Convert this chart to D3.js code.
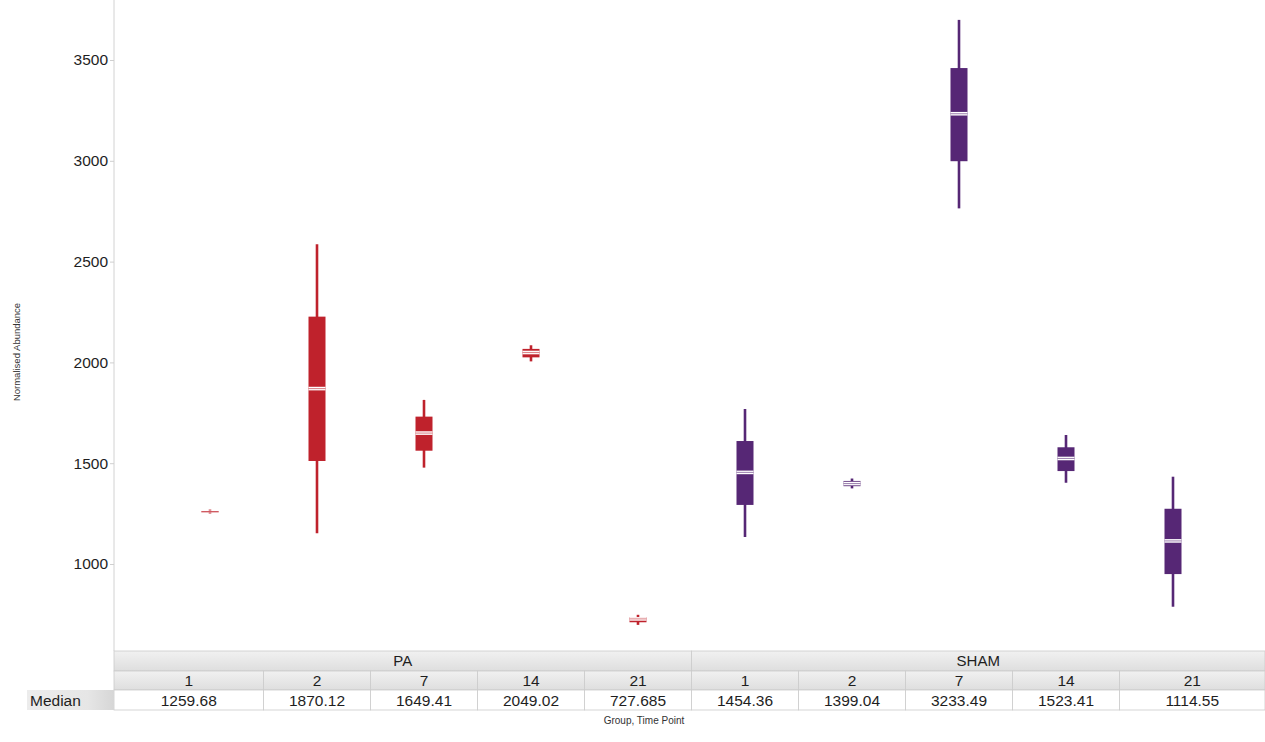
<!DOCTYPE html>
<html>
<head>
<meta charset="utf-8">
<script src="https://cdn.jsdelivr.net/npm/d3@7"></script>
<style>
  body { margin: 0; background: #fff; }
  svg text { font-family: "Liberation Sans", Arial, sans-serif; }
</style>
</head>
<body>
<div id="okvir"></div>
<script>
// data
const groups = ["PA", "SHAM"]
const timePoints = ["1", "2", "7", "14", "21"]
const medians = [1259.68, 1870.12, 1649.41, 2049.02, 727.685, 1454.36, 1399.04, 3233.49, 1523.41, 1114.55]
const medianLabels = ["1259.68", "1870.12", "1649.41", "2049.02", "727.685", "1454.36", "1399.04", "3233.49", "1523.41", "1114.55"]
const q1s = [1256, 1511, 1562, 2025, 711, 1293, 1386, 2998, 1461, 950]
const q3s = [1263, 2227, 1731, 2067, 736, 1610, 1412, 3460, 1579, 1274]
const mins = [1250, 1152, 1478, 2005, 698, 1134, 1375, 2764, 1403, 788]
const maxs = [1270, 2586, 1814, 2085, 748, 1769, 1424, 3699, 1640, 1433]
const yTicks = [1000, 1500, 2000, 2500, 3000, 3500]
const groupColors = { PA: "#bf222c", SHAM: "#562775" }

function crtajBox() {

  // 1. shape the data
  const boxes = groups.flatMap((g, gi) => timePoints.map((t, ti) => {
    const i = gi * timePoints.length + ti
    return {
      key: g + "-" + t, group: g, time: t,
      median: medians[i], label: medianLabels[i],
      q1: q1s[i], q3: q3s[i], min: mins[i], max: maxs[i]
    }
  }))

  // 2. dimensions
  const dim = {
    width: 1265,
    height: 742,
    plotLeft: 114,
    plotBottom: 651,
    rowH: [651, 671, 690, 710],
    boxWidth: 17,
  }

  const svg = d3.select("#okvir")
    .append("svg")
      .attr("width", dim.width)
      .attr("height", dim.height)

  const defs = svg.append("defs")
  const hdrGrad = defs.append("linearGradient")
      .attr("id", "hdr").attr("x1", 0).attr("y1", 0).attr("x2", 0).attr("y2", 1)
  hdrGrad.append("stop").attr("offset", "0%").attr("stop-color", "#f1f1f1")
  hdrGrad.append("stop").attr("offset", "100%").attr("stop-color", "#dedede")
  const rowGrad = defs.append("linearGradient")
      .attr("id", "rowhdr").attr("x1", 0).attr("y1", 0).attr("x2", 1).attr("y2", 0)
  rowGrad.append("stop").attr("offset", "0%").attr("stop-color", "#ececec")
  rowGrad.append("stop").attr("offset", "70%").attr("stop-color", "#e6e6e6")
  rowGrad.append("stop").attr("offset", "100%").attr("stop-color", "#d6d6d6")

  // 3. scales
  const xScale = d3.scaleBand()
    .domain(boxes.map(d => d.key))
    .range([156.5, 1226.5])
    .padding(0)

  const yScale = d3.scaleLinear()
    .domain([1000, 3500])
    .range([564, 60])

  const xc = d => xScale(d.key) + xScale.bandwidth() / 2

  // 4. axis
  svg.append("line")
      .attr("x1", dim.plotLeft).attr("x2", dim.plotLeft)
      .attr("y1", 0).attr("y2", dim.plotBottom)
      .attr("stroke", "#d2d2d2").attr("stroke-width", 1)

  const yAxis = svg.append("g")
      .attr("transform", `translate(${dim.plotLeft},0)`)
      .call(d3.axisLeft(yScale).tickValues(yTicks).tickSize(4).tickPadding(2).tickFormat(d3.format("d")))
  yAxis.select(".domain").remove()
  yAxis.selectAll(".tick line").attr("stroke", "#cfcfcf")
  yAxis.selectAll(".tick text")
      .attr("fill", "#1e1e1e")
      .style("font-size", "15.5px")
      .style("font-family", "'Liberation Sans', Arial, sans-serif")

  svg.append("text")
      .attr("transform", `translate(20, 352) rotate(-90)`)
      .attr("text-anchor", "middle")
      .attr("fill", "#333")
      .style("font-size", "9.5px")
      .text("Normalised Abundance")

  // 5. boxes
  const bins = svg.selectAll(".bin")
    .data(boxes)
    .enter().append("g")
      .attr("class", "bin")

  bins.append("line")
      .attr("x1", xc).attr("x2", xc)
      .attr("y1", d => yScale(d.min))
      .attr("y2", d => yScale(d.max))
      .attr("stroke", d => groupColors[d.group])
      .attr("stroke-width", 2.6)

  bins.append("rect")
      .attr("x", d => xc(d) - dim.boxWidth / 2)
      .attr("y", d => yScale(d.q3))
      .attr("width", dim.boxWidth)
      .attr("height", d => Math.max(1, yScale(d.q1) - yScale(d.q3)))
      .attr("fill", d => groupColors[d.group])

  bins.append("line")
      .attr("x1", d => xc(d) - dim.boxWidth / 2)
      .attr("x2", d => xc(d) + dim.boxWidth / 2)
      .attr("y1", d => yScale(d.median))
      .attr("y2", d => yScale(d.median))
      .attr("stroke", "#fff")
      .attr("stroke-opacity", d => yScale(d.q1) - yScale(d.q3) < 3 ? 0.5 : 1)
      .attr("stroke-width", 3.6)

  bins.append("line")
      .attr("x1", d => xc(d) - dim.boxWidth / 2)
      .attr("x2", d => xc(d) + dim.boxWidth / 2)
      .attr("y1", d => yScale(d.median))
      .attr("y2", d => yScale(d.median))
      .attr("stroke", d => groupColors[d.group])
      .attr("stroke-opacity", 0.55)
      .attr("stroke-width", 1.1)

  // 6. table under the plot
  const keys = xScale.domain()
  const colLeft = (k, i) => i === 0 ? dim.plotLeft : xScale(k)
  const colRight = (k, i) => i === keys.length - 1 ? dim.width : xScale(k) + xScale.bandwidth()
  const table = svg.append("g")
  const border = "#cbcbcb"

  // group row
  groups.forEach((g, gi) => {
    const first = gi * timePoints.length
    const last = first + timePoints.length - 1
    const x0 = colLeft(keys[first], first)
    const x1 = colRight(keys[last], last)
    table.append("rect")
        .attr("x", x0).attr("y", dim.rowH[0])
        .attr("width", x1 - x0).attr("height", dim.rowH[1] - dim.rowH[0])
        .attr("fill", "url(#hdr)").attr("stroke", border).attr("stroke-width", 0.8)
    table.append("text")
        .attr("x", (x0 + x1) / 2).attr("y", dim.rowH[1] - 5)
        .attr("text-anchor", "middle").attr("fill", "#1e1e1e")
        .style("font-size", "15px")
        .text(g)
  })

  // time point row and median row
  boxes.forEach((d, i) => {
    const x0 = colLeft(d.key, i)
    const x1 = colRight(d.key, i)
    table.append("rect")
        .attr("x", x0).attr("y", dim.rowH[1])
        .attr("width", x1 - x0).attr("height", dim.rowH[2] - dim.rowH[1])
        .attr("fill", "url(#hdr)").attr("stroke", border).attr("stroke-width", 0.8)
    table.append("text")
        .attr("x", (x0 + x1) / 2).attr("y", dim.rowH[2] - 4)
        .attr("text-anchor", "middle").attr("fill", "#1e1e1e")
        .style("font-size", "15.5px")
        .text(d.time)
    table.append("rect")
        .attr("x", x0).attr("y", dim.rowH[2])
        .attr("width", x1 - x0).attr("height", dim.rowH[3] - dim.rowH[2])
        .attr("fill", "#fff").attr("stroke", border).attr("stroke-width", 0.8)
    table.append("text")
        .attr("x", (x0 + x1) / 2).attr("y", dim.rowH[3] - 4)
        .attr("text-anchor", "middle").attr("fill", "#1e1e1e")
        .style("font-size", "15.5px")
        .text(d.label)
  })

  table.append("rect")
      .attr("x", 27).attr("y", dim.rowH[2])
      .attr("width", dim.plotLeft - 27).attr("height", dim.rowH[3] - dim.rowH[2])
      .attr("fill", "url(#rowhdr)")
  table.append("text")
      .attr("x", 30).attr("y", dim.rowH[3] - 4)
      .attr("fill", "#1e1e1e")
      .style("font-size", "15.5px")
      .text("Median")

  svg.append("text")
      .attr("x", 644).attr("y", 724)
      .attr("text-anchor", "middle")
      .attr("fill", "#333")
      .style("font-size", "10px")
      .text("Group, Time Point")
}
crtajBox()
</script>
</body>
</html>
